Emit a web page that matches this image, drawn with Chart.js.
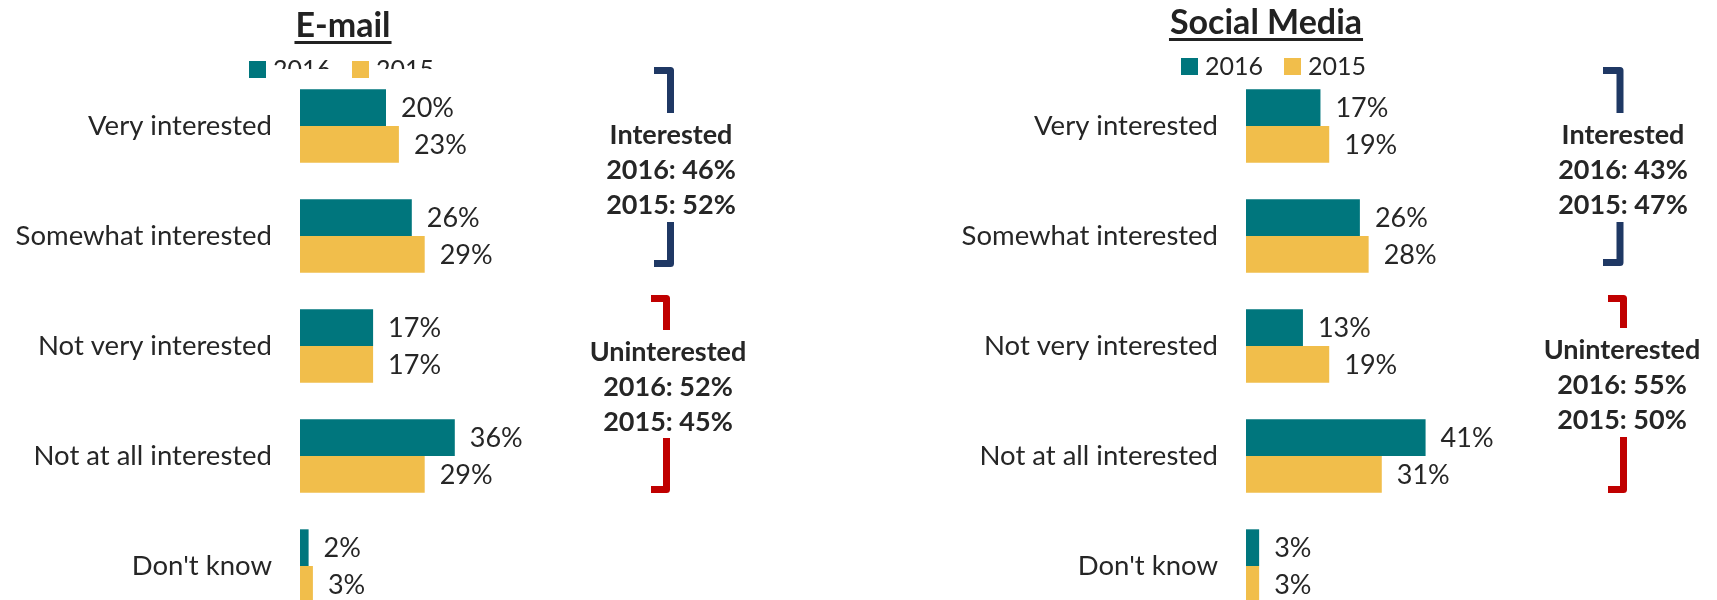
<!DOCTYPE html>
<html>
<head>
<meta charset="utf-8">
<title>Interest in contact by e-mail and social media</title>
<script src="https://cdn.jsdelivr.net/npm/chart.js@4.4.1/dist/chart.umd.min.js"></script>
<style>
    html, body { margin: 0; padding: 0; background: #fff; overflow: hidden; }
    .panel { position: absolute; top: 0; height: 621px; }
    #emailPanel { left: 0; width: 860px; }
    #socialPanel { left: 860px; width: 857px; }
</style>
</head>
<body>
<div class="panel" id="emailPanel"><canvas id="emailChart"></canvas></div>
<div class="panel" id="socialPanel"><canvas id="socialChart"></canvas></div>
<script>
const categories = ['Very interested', 'Somewhat interested', 'Not very interested', 'Not at all interested', "Don't know"];
const years = ['2016', '2015'];

const email2016 = [20, 26, 17, 36, 2];
const email2015 = [23, 29, 17, 29, 3];
const social2016 = [17, 26, 13, 41, 3];
const social2015 = [19, 28, 19, 31, 3];

// net scores shown between the brackets (2016, 2015)
const emailInterested = [46, 52];
const emailUninterested = [52, 45];
const socialInterested = [43, 47];
const socialUninterested = [55, 50];

const TEAL = '#00767d';
const GOLD = '#f1be4b';
const NAVY = '#1f3864';
const RED = '#c00000';
const INK = '#262626';
const FONT = 'Lato, "Open Sans", sans-serif';

function drawBracket(ctx, b, color) {
    ctx.save();
    ctx.strokeStyle = color;
    ctx.lineWidth = 7;
    ctx.lineJoin = 'round';
    ctx.lineCap = 'butt';
    ctx.beginPath();
    ctx.moveTo(b.left, b.top + 3.5);
    ctx.lineTo(b.x, b.top + 3.5);
    ctx.lineTo(b.x, b.gapTop);
    ctx.moveTo(b.x, b.gapBottom);
    ctx.lineTo(b.x, b.bottom - 3.5);
    ctx.lineTo(b.left, b.bottom - 3.5);
    ctx.stroke();
    ctx.restore();
}

function drawNote(ctx, n, heading, values) {
    ctx.save();
    ctx.fillStyle = INK;
    ctx.font = 'bold 27px ' + FONT;
    ctx.textAlign = 'center';
    ctx.textBaseline = 'middle';
    ctx.fillText(heading, n.x, n.y);
    ctx.fillText(years[0] + ': ' + values[0] + '%', n.x, n.y + 35);
    ctx.fillText(years[1] + ': ' + values[1] + '%', n.x, n.y + 70);
    ctx.restore();
}

// title, legend, value labels and the bracketed net scores
const decorPlugin = {
    id: 'decor',
    afterDatasetsDraw(chart, args, opts) {
        const ctx = chart.ctx;
        ctx.save();

        ctx.font = '27px ' + FONT;
        ctx.fillStyle = INK;
        ctx.textAlign = 'left';
        ctx.textBaseline = 'middle';
        chart.data.datasets.forEach((ds, i) => {
            chart.getDatasetMeta(i).data.forEach((bar, j) => {
                ctx.fillText(ds.data[j] + '%', bar.x + 15, bar.y + 1);
            });
        });

        // underlined title
        ctx.font = 'bold 34px ' + FONT;
        ctx.textAlign = 'center';
        ctx.textBaseline = 'alphabetic';
        ctx.fillStyle = '#222';
        ctx.fillText(opts.title.text, opts.title.x, opts.title.y);
        const tw = ctx.measureText(opts.title.text).width;
        ctx.fillRect(opts.title.x - tw / 2 - 1, opts.title.y + 4, tw + 2, 3);

        // legend
        const lg = opts.legend;
        ctx.font = '25px ' + FONT;
        ctx.textAlign = 'left';
        let x = lg.x;
        chart.data.datasets.forEach(ds => {
            ctx.fillStyle = ds.backgroundColor;
            ctx.fillRect(x, lg.y, 17, 17);
            ctx.save();
            ctx.beginPath();
            ctx.rect(0, 0, chart.width, lg.clipY);
            ctx.clip();
            ctx.fillStyle = INK;
            ctx.fillText(ds.label, x + 24, lg.y + 17);
            ctx.restore();
            x += 24 + ctx.measureText(ds.label).width + 21;
        });

        drawBracket(ctx, opts.upper, NAVY);
        drawBracket(ctx, opts.lower, RED);
        drawNote(ctx, opts.upperNote, 'Interested', opts.interested);
        drawNote(ctx, opts.lowerNote, 'Uninterested', opts.uninterested);

        ctx.restore();
    }
};

function makeChart(id, values2016, values2015, cfg) {
    return new Chart(document.getElementById(id), {
        type: 'bar',
        data: {
            labels: categories,
            datasets: [{
                label: years[0],
                data: values2016,
                backgroundColor: TEAL,
                categoryPercentage: 0.667,
                barPercentage: 1
            }, {
                label: years[1],
                data: values2015,
                backgroundColor: GOLD,
                categoryPercentage: 0.667,
                barPercentage: 1
            }]
        },
        options: {
            indexAxis: 'y',
            responsive: true,
            maintainAspectRatio: false,
            animation: false,
            layout: { padding: { top: 71, right: cfg.padRight, bottom: 0, left: 0 } },
            scales: {
                x: { display: false, min: 0, max: 100 },
                y: {
                    grid: { display: false },
                    border: { display: false },
                    ticks: { color: INK, font: { family: FONT, size: 27.5 }, padding: 20 },
                    afterFit(scale) {
                        scale.width = cfg.axisWidth;
                        scale.paddingTop = 0;
                        scale.paddingBottom = 0;
                    }
                }
            },
            plugins: {
                legend: { display: false },
                tooltip: { enabled: false },
                decor: cfg
            }
        },
        plugins: [decorPlugin]
    });
}

makeChart('emailChart', email2016, email2015, {
    axisWidth: 300,
    padRight: 130,
    title: { text: 'E-mail', x: 343, y: 37 },
    legend: { x: 249, y: 61, clipY: 69 },
    upper: { x: 670.5, left: 654, top: 67, gapTop: 113, gapBottom: 222, bottom: 267 },
    lower: { x: 666.5, left: 651, top: 295, gapTop: 330, gapBottom: 438, bottom: 493 },
    upperNote: { x: 671, y: 135 },
    lowerNote: { x: 668, y: 352 },
    interested: emailInterested,
    uninterested: emailUninterested
});

makeChart('socialChart', social2016, social2015, {
    axisWidth: 386,
    padRight: 33,
    title: { text: 'Social Media', x: 406, y: 34 },
    legend: { x: 321, y: 58, clipY: 600 },
    upper: { x: 760, left: 743, top: 67, gapTop: 113, gapBottom: 222, bottom: 266 },
    lower: { x: 763.5, left: 748, top: 295, gapTop: 328, gapBottom: 437, bottom: 493 },
    upperNote: { x: 763, y: 135 },
    lowerNote: { x: 762, y: 350 },
    interested: socialInterested,
    uninterested: socialUninterested
});
</script>
</body>
</html>
